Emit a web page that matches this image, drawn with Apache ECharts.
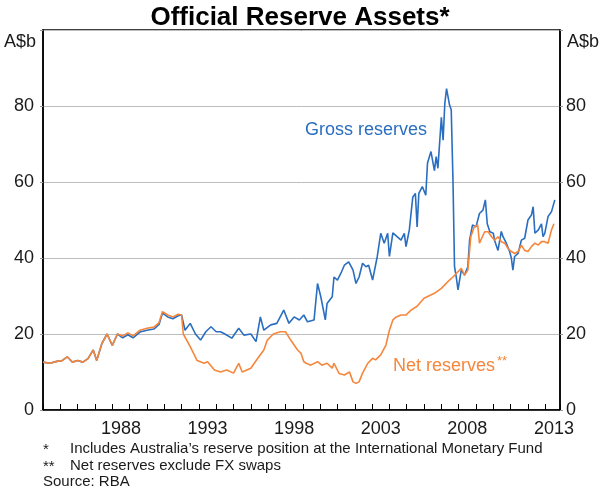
<!DOCTYPE html>
<html>
<head>
<meta charset="utf-8">
<script src="https://cdn.jsdelivr.net/npm/echarts@6/dist/echarts.min.js"></script>
<style>
    html, body { margin: 0; padding: 0; background: #fff; }
    #chart { width: 600px; height: 489px; }
</style>
</head>
<body>
<div id="chart"></div>
<script>
// values (A$ billion), dates as decimal years
var netYears = [1984.0, 1984.4, 1984.8, 1985.1, 1985.4, 1985.7, 1986.0, 1986.3, 1986.6, 1986.9,
    1987.1, 1987.4, 1987.7, 1988.0, 1988.3, 1988.6, 1988.9, 1989.2, 1989.6, 1990.0,
    1990.4, 1990.7, 1990.9, 1991.2, 1991.5, 1991.8, 1992.0, 1992.1, 1992.5, 1992.9,
    1993.3, 1993.5, 1993.9, 1994.25, 1994.6, 1995.0, 1995.3, 1995.5, 1996.0, 1996.4,
    1996.75, 1996.95, 1997.3, 1997.7, 1998.0, 1998.3, 1998.7, 1998.9, 1999.06, 1999.2,
    1999.46, 1999.85, 2000.1, 2000.4, 2000.7, 2000.8, 2001.1, 2001.4, 2001.7, 2001.9,
    2002.07, 2002.25, 2002.45, 2002.75, 2003.03, 2003.2, 2003.5, 2003.8, 2004.0, 2004.2,
    2004.4, 2004.67, 2004.96, 2005.25, 2005.6, 2006.0, 2006.6, 2007.0, 2007.47, 2007.67,
    2007.96, 2008.15, 2008.34, 2008.53, 2008.7, 2008.9, 2009.1, 2009.2, 2009.3, 2009.5,
    2009.7, 2009.9, 2010.07, 2010.27, 2010.46, 2010.66, 2010.85, 2011.04, 2011.23, 2011.43,
    2011.62, 2011.81, 2012.0, 2012.2, 2012.4, 2012.6, 2012.78, 2012.97, 2013.16, 2013.36,
    2013.5];
var netValues = [12.6, 12.3, 12.8, 13.0, 14.0, 12.6, 13.0, 12.6, 13.5, 15.8,
    13.0, 17.5, 20.0, 17.0, 20.0, 19.5, 20.3, 19.5, 21.0, 21.5,
    21.8, 23.0, 25.9, 25.0, 24.5, 25.2, 25.0, 20.0, 16.7, 13.0,
    12.3, 12.7, 10.5, 10.0, 10.5, 9.7, 12.3, 10.0, 11.0, 13.6,
    15.8, 18.4, 20.0, 20.6, 20.6, 18.4, 15.8, 14.9, 12.7, 12.3,
    11.8, 12.7, 11.8, 12.3, 11.0, 12.3, 9.6, 9.2, 10.0, 7.4,
    7.0, 7.4, 9.7, 12.3, 13.6, 13.2, 14.5, 17.1, 21.0, 23.7,
    24.5, 25.0, 25.0, 26.3, 27.3, 29.4, 30.7, 32.0, 34.2, 35.0,
    36.4, 37.3, 35.5, 36.8, 45.6, 48.2, 48.7, 43.9, 43.9, 46.9,
    46.9, 45.6, 44.7, 45.6, 44.3, 43.9, 42.5, 41.7, 41.2, 41.7,
    43.4, 42.0, 41.7, 43.0, 43.9, 43.4, 44.3, 44.3, 43.9, 47.4,
    49.0];

var grossYears = [1984.0, 1984.4, 1984.8, 1985.1, 1985.4, 1985.7, 1986.0, 1986.3, 1986.6, 1986.9,
    1987.1, 1987.4, 1987.7, 1988.0, 1988.3, 1988.6, 1988.9, 1989.2, 1989.6, 1990.0,
    1990.4, 1990.7, 1990.9, 1991.2, 1991.5, 1991.8, 1992.0, 1992.2, 1992.5, 1992.8,
    1993.1, 1993.4, 1993.7, 1994.0, 1994.25, 1994.5, 1994.9, 1995.3, 1995.6, 1996.0,
    1996.3, 1996.55, 1996.75, 1997.15, 1997.5, 1997.9, 1998.2, 1998.5, 1998.8, 1999.06,
    1999.27, 1999.65, 1999.85, 2000.04, 2000.3, 2000.4, 2000.7, 2000.8, 2001.0, 2001.2,
    2001.4, 2001.65, 2001.9, 2002.07, 2002.25, 2002.45, 2002.65, 2002.8, 2003.03, 2003.1,
    2003.3, 2003.5, 2003.7, 2003.9, 2004.0, 2004.2, 2004.67, 2004.86, 2004.96, 2005.15,
    2005.35, 2005.5, 2005.6, 2005.7, 2005.9, 2006.1, 2006.2, 2006.4, 2006.6, 2006.7,
    2006.8, 2007.0, 2007.1, 2007.2, 2007.3, 2007.47, 2007.57, 2007.67, 2007.76, 2007.86,
    2007.96, 2008.15, 2008.34, 2008.53, 2008.63, 2008.8, 2009.0, 2009.2, 2009.4, 2009.54,
    2009.65, 2009.8, 2010.0, 2010.07, 2010.27, 2010.46, 2010.56, 2010.75, 2010.94, 2011.04,
    2011.13, 2011.23, 2011.43, 2011.62, 2011.81, 2012.0, 2012.2, 2012.3, 2012.4, 2012.6,
    2012.78, 2012.87, 2012.97, 2013.16, 2013.36, 2013.55];
var grossValues = [12.6, 12.3, 12.8, 13.0, 14.0, 12.6, 13.0, 12.6, 13.5, 15.8,
    13.0, 17.5, 20.0, 17.0, 20.0, 19.0, 19.8, 19.0, 20.5, 21.0,
    21.3, 22.5, 25.5, 24.5, 24.0, 24.8, 25.0, 21.0, 22.8, 20.0,
    18.4, 20.6, 21.9, 20.6, 20.6, 20.0, 18.9, 21.5, 19.7, 20.0,
    18.0, 24.5, 21.0, 22.4, 22.8, 26.3, 22.8, 24.5, 23.7, 25.0,
    23.2, 23.7, 33.3, 29.8, 23.7, 28.0, 29.8, 35.0, 34.2, 36.0,
    38.1, 39.0, 36.8, 33.3, 35.0, 38.6, 37.7, 38.1, 34.2, 33.8,
    40.4, 46.5, 43.9, 46.5, 40.4, 46.6, 44.7, 46.5, 43.0, 47.4,
    56.0, 57.0, 48.2, 57.0, 58.8, 56.5, 65.0, 68.0, 63.0, 66.7,
    63.6, 77.0, 71.0, 80.7, 84.6, 80.3, 79.0, 60.5, 37.7, 35.0,
    31.6, 36.8, 35.5, 37.7, 44.7, 48.7, 48.2, 51.7, 52.6, 55.3,
    49.0, 46.9, 46.5, 44.7, 42.0, 47.0, 45.6, 43.9, 41.7, 40.0,
    36.8, 40.4, 41.2, 44.7, 45.2, 50.0, 51.3, 53.5, 46.5, 47.4,
    49.0, 45.6, 46.5, 50.9, 52.2, 55.3];

var yearLabels = [1988, 1993, 1998, 2003, 2008, 2013];
var yTicks = [0, 20, 40, 60, 80];

var blue = '#2a6ec0';
var orange = '#f5873c';
var fontName = '"Liberation Sans", Arial, sans-serif';

function zip(xs, ys) {
    var out = [];
    for (var i = 0; i < xs.length; i++) {
        out.push([xs[i], ys[i]]);
    }
    return out;
}

var myChart = echarts.init(document.getElementById('chart'), null, { renderer: 'canvas' });

var option = {
    animation: false,
    backgroundColor: '#fff',
    textStyle: { fontFamily: fontName },
    title: {
        text: 'Official Reserve Assets*',
        left: 'center',
        top: 0,
        textStyle: { fontSize: 26, fontWeight: 'bold', color: '#000', fontFamily: fontName }
    },
    grid: {
        left: 43, right: 40, top: 30, bottom: 79,
        show: true, borderColor: '#000', borderWidth: 1.5, backgroundColor: 'transparent'
    },
    xAxis: [{
        type: 'value',
        min: 1984, max: 2013.85, interval: 1,
        axisLine: { lineStyle: { color: '#000', width: 1.5 } },
        axisTick: { inside: true, length: 6, lineStyle: { color: '#000', width: 1 } },
        axisLabel: { show: false },
        splitLine: { show: false }
    }, {
        // only carries the year labels, centred on each year
        type: 'value',
        position: 'bottom',
        min: 1984, max: 2013.85, interval: 0.5,
        axisLine: { show: false },
        axisTick: { show: false },
        splitLine: { show: false },
        axisLabel: {
            margin: 10,
            fontSize: 18,
            color: '#1a1a1a',
            showMinLabel: false,
            showMaxLabel: false,
            formatter: function (v) {
                var y = Math.round(v - 0.5);
                if (Math.abs(v - (y + 0.5)) < 0.01 && yearLabels.indexOf(y) >= 0) {
                    return String(y);
                }
                return '';
            }
        }
    }],
    yAxis: [{
        type: 'value',
        min: 0, max: 100, interval: 20,
        axisLine: { show: true, lineStyle: { color: '#000', width: 1.5 } },
        axisTick: { show: true, length: 3, lineStyle: { color: '#999' } },
        splitLine: { lineStyle: { color: '#bdbdbd', width: 1 } },
        axisLabel: {
            margin: 9, fontSize: 18, color: '#1a1a1a',
            formatter: function (v) { return yTicks.indexOf(v) >= 0 ? String(v) : ''; }
        }
    }, {
        type: 'value',
        position: 'right',
        min: 0, max: 100, interval: 20,
        axisLine: { show: true, lineStyle: { color: '#000', width: 1.5 } },
        axisTick: { show: true, length: 3, lineStyle: { color: '#999' } },
        splitLine: { show: false },
        axisLabel: {
            margin: 6, fontSize: 18, color: '#1a1a1a',
            formatter: function (v) { return yTicks.indexOf(v) >= 0 ? String(v) : ''; }
        }
    }],
    series: [{
        name: 'Net reserves',
        type: 'line',
        xAxisIndex: 0,
        yAxisIndex: 0,
        data: zip(netYears, netValues),
        showSymbol: false,
        lineStyle: { color: orange, width: 1.6 },
        z: 2
    }, {
        name: 'Gross reserves',
        type: 'line',
        xAxisIndex: 0,
        yAxisIndex: 0,
        data: zip(grossYears, grossValues),
        showSymbol: false,
        lineStyle: { color: blue, width: 1.6 },
        z: 1
    }],
    graphic: [
        { type: 'text', x: 36, y: 42, style: { text: 'A$b', font: '18px ' + fontName, fill: '#1a1a1a', align: 'right', verticalAlign: 'middle' } },
        { type: 'text', x: 567, y: 42, style: { text: 'A$b', font: '18px ' + fontName, fill: '#1a1a1a', align: 'left', verticalAlign: 'middle' } },
        { type: 'text', x: 366, y: 130, style: { text: 'Gross reserves', font: '18px ' + fontName, fill: blue, align: 'center', verticalAlign: 'middle' } },
        { type: 'text', x: 393, y: 366, style: { text: 'Net reserves', font: '18px ' + fontName, fill: orange, align: 'left', verticalAlign: 'middle' } },
        { type: 'text', x: 497, y: 361, style: { text: '**', font: '13px ' + fontName, fill: orange, align: 'left', verticalAlign: 'middle' } },
        { type: 'text', x: 43, y: 450, style: { text: '*', font: '15px ' + fontName, fill: '#1a1a1a', align: 'left', verticalAlign: 'middle' } },
        { type: 'text', x: 70, y: 449, style: { text: 'Includes Australia\u2019s reserve position at the International Monetary Fund', font: '15px ' + fontName, fill: '#1a1a1a', align: 'left', verticalAlign: 'middle' } },
        { type: 'text', x: 43, y: 467, style: { text: '**', font: '15px ' + fontName, fill: '#1a1a1a', align: 'left', verticalAlign: 'middle' } },
        { type: 'text', x: 70, y: 466, style: { text: 'Net reserves exclude FX swaps', font: '15px ' + fontName, fill: '#1a1a1a', align: 'left', verticalAlign: 'middle' } },
        { type: 'text', x: 43, y: 482, style: { text: 'Source: RBA', font: '15px ' + fontName, fill: '#1a1a1a', align: 'left', verticalAlign: 'middle' } }
    ]
};
myChart.setOption(option);
</script>
</body>
</html>
